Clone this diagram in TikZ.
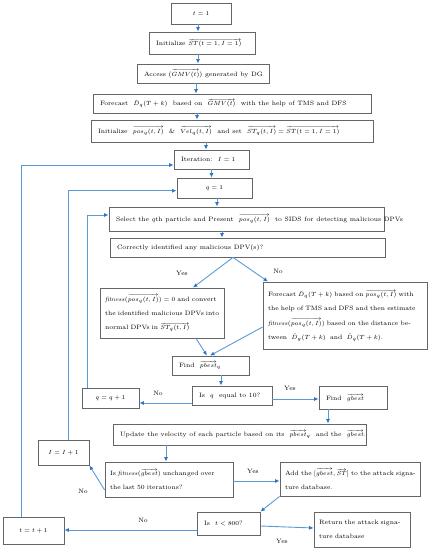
\documentclass[tikz,border=0pt]{standalone}
\usepackage{amsmath}
\usetikzlibrary{arrows.meta}
\definecolor{lineblue}{HTML}{5B9BD5}
\definecolor{tipblue}{HTML}{2E75C6}
\definecolor{boxgray}{HTML}{666666}
\newcommand{\jline}[1]{\makebox[\hsize][s]{#1}}
\newcommand{\lft}[2]{\makebox[#1pt][l]{#2}}
\newcommand{\mm}[1]{\mbox{$#1$}}
\begin{document}
\begin{tikzpicture}[x=1pt,y=-1pt,
  box/.style={draw=boxgray, line width=0.8pt, inner sep=0pt, font=\fontsize{6.3}{7.5}\selectfont, fill=white},
  lbox/.style={box, inner xsep=7pt},
  mbox/.style={box, align=left, inner xsep=5pt, font=\fontsize{6.3}{14.2}\selectfont},
  cbox/.style={box, align=center},
  arr/.style={draw=lineblue, line width=0.9pt, -{Latex[length=4.5pt,width=4pt,color=tipblue]}},
  lab/.style={font=\fontsize{6.3}{7.5}\selectfont, inner sep=0pt}]
\useasboundingbox (0,0) rectangle (430,550);

\node[cbox, minimum width=60, minimum height=21] (n1) at (201,13.5) {$t=1$};
\node[lbox, minimum height=22] (n2) at (202,43) {\lft{92}{Initialize $\overrightarrow{ST(t=1,I=1)}$}};
\node[lbox, minimum height=19] (n3) at (203,73.5) {\lft{118}{Access ($\overrightarrow{GMV(t)}$) generated by DG}};
\node[lbox, minimum height=19] (n4) at (232,103.5) {\lft{264}{Forecast\ \ $\hat{D}_q(T+k)$\ \ based on\ \ $\overrightarrow{GMV(t)}$\ \ with the help of TMS and DFS}};
\node[lbox, minimum height=22] (n5) at (232,131) {\lft{268}{Initialize\ \ $\overrightarrow{pos_q(t,I)}$\ \ \&\ \ $\overrightarrow{Vel_q(t,I)}$\ \ and set\ \ $\overrightarrow{ST_q(t,I)}=\overrightarrow{ST(t=1,I=1)}$}};
\node[lbox, minimum height=19] (n6) at (211.5,159.5) {\lft{61}{Iteration:\ \ $I=1$}};
\node[cbox, minimum width=75, minimum height=20] (n7) at (214.5,188) {$q=1$};
\node[lbox, minimum height=24] (n8) at (246.5,219) {\lft{261}{Select the $q$th particle and Present\ \ $\overrightarrow{pos_q(t,I)}$\ \ to SIDS for detecting malicious DPVs}};
\node[lbox, minimum height=19] (n9) at (247.5,247.5) {\lft{261}{Correctly identified any malicious DPV(s)?}};
\node[mbox, text width=114, minimum height=50] (n10) at (162,313) {\jline{\mm{\mathit{fitness}(\overrightarrow{pos_q(t,I)})=0} and convert}\\\jline{the identified malicious DPVs into}\\normal DPVs in \mm{\overrightarrow{ST_q(t,I)}}};
\node[mbox, text width=154, minimum height=67] (n11) at (345,315.5) {\jline{Forecast \mm{\hat{D}_q(T+k)} based on \mm{\overrightarrow{pos_q(t,I)}} with}\\\jline{the help of TMS and DFS and then estimate}\\\jline{\mm{\mathit{fitness}(\overrightarrow{pos_q(t,I)})} based on the distance be-}\\tween\ \ \mm{\hat{D}_g(T+k)}\ \ and\ \ \mm{\hat{D}_q(T+k)}.};
\node[lbox, minimum height=19] (n12) at (210.5,365.5) {\lft{63}{Find\ \ $\overrightarrow{pbest}_q$}};
\node[lbox, minimum height=19] (n13) at (232,395.5) {\lft{66}{Is\ \ $q$\ \ equal to 10?}};
\node[cbox, minimum width=57, minimum height=20] (n14) at (110.5,398) {$q=q+1$};
\node[lbox, minimum height=23] (n15) at (353,397.5) {\lft{54}{Find\ \ $\overrightarrow{gbest}$}};
\node[lbox, minimum height=21] (n16) at (239.5,434.5) {\lft{239}{Update the velocity of each particle based on its\ \ $\overrightarrow{pbest}_q$\ \ and the\ \ $\overrightarrow{gbest}$.}};
\node[cbox, minimum width=51, minimum height=25] (n17) at (63.5,452.5) {$I=I+1$};
\node[mbox, text width=118, minimum height=35] (n18) at (169,479.5) {\jline{Is \mm{\mathit{fitness}(\overrightarrow{gbest})} unchanged over}\\the last 50 iterations?};
\node[mbox, text width=130, minimum height=34] (n19) at (350,479) {\jline{Add the \mm{[\overrightarrow{gbest},\overrightarrow{ST}]} to the attack signa-}\\ture database.};
\node[lbox, minimum height=23] (n20) at (228.5,523.5) {\lft{49}{Is\ \ $t<800$?}};
\node[cbox, minimum width=61, minimum height=27] (n21) at (33.5,530.5) {$t=t+1$};
\node[mbox, text width=86, minimum height=35] (n22) at (362,529.5) {\jline{Return the attack signa-}\\ture database};

% main chain
\draw[arr] ([xshift=-3pt]n1.south) -- ([xshift=-3pt]n1.south |- n2.north);
\draw[arr] ([xshift=-4pt]n2.south) -- ([xshift=-4pt]n2.south |- n3.north);
\draw[arr] ([xshift=-7pt]n3.south) -- ([xshift=-7pt]n3.south |- n4.north);
\draw[arr] ([xshift=-35pt]n4.south) -- ([xshift=-35pt]n4.south |- n5.north);
\draw[arr] ([xshift=-26pt]n5.south) -- ([xshift=-26pt]n5.south |- n6.north);
\draw[arr] (n6.south) -- (n6.south |- n7.north);
\draw[arr] ([xshift=2.5pt]n7.south) -- ([xshift=2.5pt]n7.south |- n8.north);
\draw[arr] ([xshift=-24.5pt]n8.south) -- ([xshift=-24.5pt]n8.south |- n9.north);
% branches
\draw[arr] ([xshift=-14.5pt]n9.south) -- ([xshift=31pt]n10.north);
\draw[arr] ([xshift=-14.5pt]n9.south) -- ([xshift=-77pt]n11.north);
\draw[arr] ([xshift=34pt]n10.south) -- ([xshift=-3.5pt]n12.north);
\draw[arr] ([yshift=-11.5pt]n11.west) -- ([xshift=-0.5pt]n12.north);
\draw[arr] ([xshift=10.5pt]n12.south) -- ([xshift=10.5pt]n12.south |- n13.north);
\draw[arr] ([yshift=-7.5pt]n13.west) -- ([yshift=-7.5pt]n13.west -| n14.east);
\draw[arr] ([yshift=-3.5pt]n13.east) -- ([yshift=-3.5pt]n13.east -| n15.west);
\draw[arr] ([xshift=-25pt]n15.south) -- ([xshift=-25pt]n15.south |- n16.north);
\draw[arr] ([xshift=-23.5pt]n14.north) |- ([yshift=4pt]n8.west);
\draw[arr] ([xshift=-73.5pt]n16.south) -- ([xshift=-73.5pt]n16.south |- n18.north);
\draw[arr] ([xshift=4.5pt]n17.north) |- ([yshift=-2.7pt]n7.west);
\draw[arr] ([yshift=-10.5pt]n18.west) -- (n17.south east);
\draw[arr] ([yshift=-1.5pt]n18.east) -- ([yshift=-1.5pt]n18.east -| n19.west);
\draw[arr] (n19.south west) -- (n20.north east);
\draw[arr] ([yshift=-6.5pt]n20.west) -- ([yshift=-6.5pt]n20.west -| n21.east);
\draw[arr] ([yshift=-2.5pt]n20.east) -- ([yshift=1.5pt]n22.west);
\draw[arr] ([xshift=-12.5pt]n21.north) |- ([yshift=-5.5pt]n6.west);

% labels
\node[lab] (l1) at (182,273) {Yes};
\node[lab] (l2) at (278,271) {No};
\node[lab] (l3) at (158,393) {No};
\node[lab] (l4) at (290,388) {Yes};
\node[lab] (l5) at (83,491) {No};
\node[lab] (l6) at (253,471) {Yes};
\node[lab] (l7) at (143,520) {No};
\node[lab] (l8) at (282,541) {Yes};
\end{tikzpicture}
\end{document}
